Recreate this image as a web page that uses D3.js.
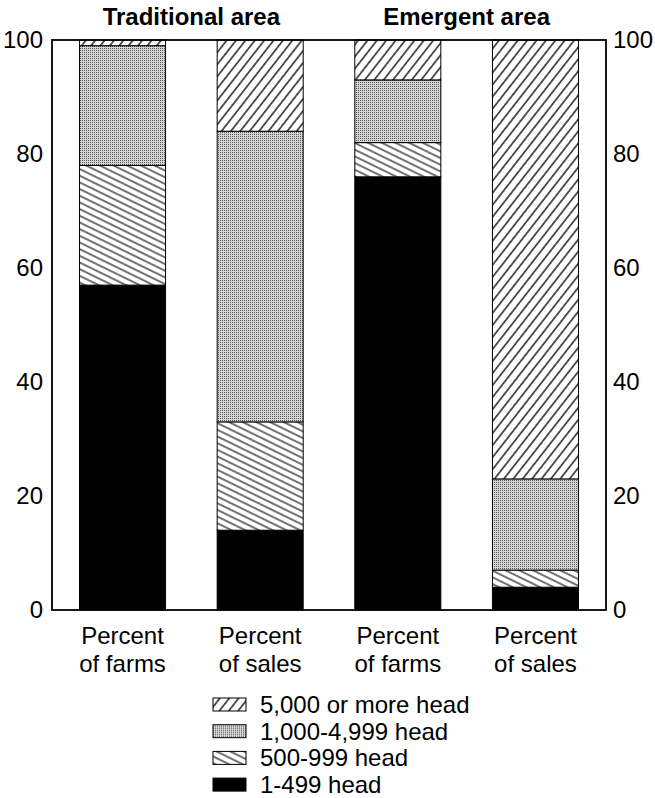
<!DOCTYPE html>
<html>
<head>
<meta charset="utf-8">
<style>
    body { margin: 0; background: #fff; }
    text { font-family: "Liberation Sans", Arial, Helvetica, sans-serif; fill: #000; }
</style>
</head>
<body>
<svg id="chart" width="655" height="798"></svg>
<script src="https://cdn.jsdelivr.net/npm/d3@7"></script>
<script>
    // data (percent of each bar)
    const groups = ["Traditional area", "Emergent area"];
    const barLabels = [["Percent", "of farms"], ["Percent", "of sales"], ["Percent", "of farms"], ["Percent", "of sales"]];
    const sizeClasses = ["1-499 head", "500-999 head", "1,000-4,999 head", "5,000 or more head"];
    const head1to499 = [57, 14, 76, 4];
    const head500to999 = [21, 19, 6, 3];
    const head1000to4999 = [21, 51, 11, 16];
    const head5000plus = [1, 16, 7, 77];
    const yTicks = [0, 20, 40, 60, 80, 100];

    let svg = d3.select("#chart")
    let defs = svg.append("defs")

    // hatch patterns
    function hatch(id, angle, gap, w) {
        let p = defs.append("pattern").attr("id", id)
            .attr("patternUnits", "userSpaceOnUse")
            .attr("width", 20).attr("height", gap)
            .attr("patternTransform", `rotate(${angle})`)
        p.append("rect").attr("width", 20).attr("height", gap).attr("fill", "#fff")
        p.append("line").attr("x1", 0).attr("x2", 20).attr("y1", gap / 2).attr("y2", gap / 2)
            .attr("stroke", "#000").attr("stroke-width", w)
    }
    hatch("big", -52, 7.4, 1.3)
    hatch("mid", 26, 6, 1.1)
    let dots = defs.append("pattern").attr("id", "dots")
        .attr("patternUnits", "userSpaceOnUse").attr("width", 2).attr("height", 2)
    dots.append("rect").attr("width", 2).attr("height", 2).attr("fill", "#d4d4d4")
    dots.append("rect").attr("width", 1).attr("height", 1).attr("fill", "#5a5a5a")

    const fills = ["#000", "url(#mid)", "url(#dots)", "url(#big)"]

    let rows = d3.range(4).map(i => ({
        i: i,
        "1-499 head": head1to499[i],
        "500-999 head": head500to999[i],
        "1,000-4,999 head": head1000to4999[i],
        "5,000 or more head": head5000plus[i]
    }))
    let series = d3.stack().keys(sizeClasses)(rows)

    let x = d3.scaleBand().domain(d3.range(4)).range([52, 606])
        .paddingInner(0.375).paddingOuter(0.2)
    let y = d3.scaleLinear().domain([0, 100]).range([610, 40])

    // bars
    svg.append("g").selectAll("g")
        .data(series)
        .join("g")
        .attr("fill", (d, k) => fills[k])
        .selectAll("rect")
        .data(d => d)
        .join("rect")
        .attr("x", d => x(d.data.i))
        .attr("width", x.bandwidth())
        .attr("y", d => y(d[1]))
        .attr("height", d => y(d[0]) - y(d[1]))
        .attr("stroke", "#000")
        .attr("stroke-width", 1)

    // frame
    svg.append("rect")
        .attr("x", 52).attr("y", y(100))
        .attr("width", 606 - 52).attr("height", y(0) - y(100))
        .attr("fill", "none").attr("stroke", "#000").attr("stroke-width", 1.8)

    // axes (no ticks, labels only)
    svg.append("g").attr("transform", "translate(52,0)")
        .call(d3.axisLeft(y).tickValues(yTicks).tickSize(0).tickPadding(9))
    svg.append("g").attr("transform", "translate(606,0)")
        .call(d3.axisRight(y).tickValues(yTicks).tickSize(0).tickPadding(7))
    svg.selectAll(".domain").remove()
    svg.selectAll(".tick text")
        .style("font-family", "'Liberation Sans', Arial, sans-serif")
        .style("font-size", "24px")
        .attr("fill", "#000")

    // group titles
    svg.append("g").selectAll("text")
        .data(groups)
        .join("text")
        .attr("x", (d, k) => (x(2 * k) + x(2 * k + 1) + x.bandwidth()) / 2)
        .attr("y", 25)
        .attr("text-anchor", "middle")
        .style("font-size", "24px")
        .style("font-weight", "bold")
        .text(d => d)

    // bar labels
    let lab = svg.append("g").selectAll("text")
        .data(barLabels)
        .join("text")
        .attr("text-anchor", "middle")
        .style("font-size", "24px")
    lab.selectAll("tspan")
        .data((d, i) => d.map(t => ({ t: t, i: i })))
        .join("tspan")
        .attr("x", d => x(d.i) + x.bandwidth() / 2)
        .attr("y", (d, k) => 644 + k * 28)
        .text(d => d.t)

    // legend, top row = largest class
    let legend = svg.append("g").selectAll("g")
        .data(sizeClasses.slice().reverse())
        .join("g")
        .attr("transform", (d, k) => `translate(213,${713 + k * 26.7})`)
    legend.append("rect")
        .attr("x", 0).attr("y", -15).attr("width", 33).attr("height", 13)
        .attr("fill", (d, k) => fills[3 - k])
        .attr("stroke", "#000").attr("stroke-width", 1)
    legend.append("text")
        .attr("x", 47).attr("y", 0)
        .style("font-size", "24px")
        .text(d => d)
</script>
</body>
</html>
